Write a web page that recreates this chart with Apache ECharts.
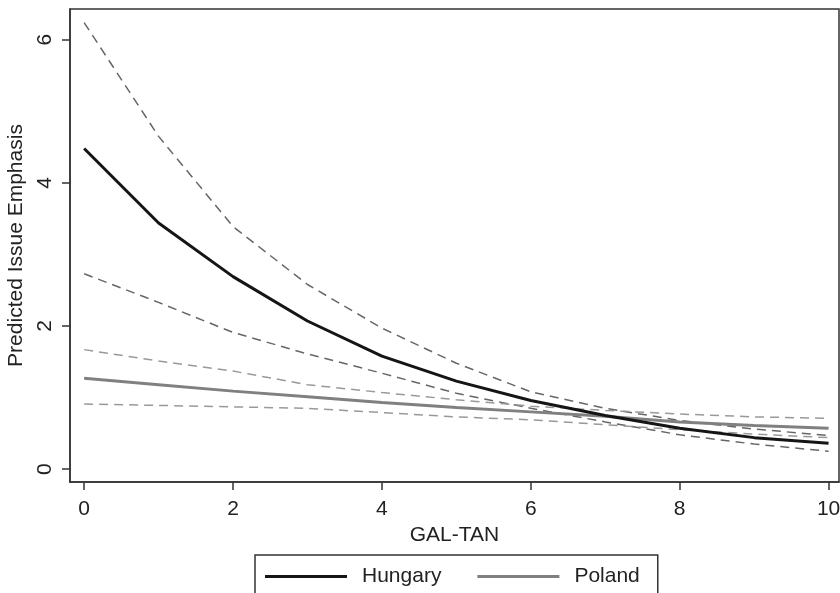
<!DOCTYPE html>
<html>
<head>
<meta charset="utf-8">
<script src="https://cdn.jsdelivr.net/npm/echarts@6/dist/echarts.min.js"></script>
<style>html,body{margin:0;padding:0;background:#fff}#c{width:840px;height:593px}</style>
</head>
<body>
<div id="c"></div>
<script>
var galTan = [0, 1, 2, 3, 4, 5, 6, 7, 8, 9, 10];
var hungary      = [4.48, 3.44, 2.69, 2.07, 1.58, 1.23, 0.96, 0.75, 0.57, 0.44, 0.36];
var hungaryUpper = [6.24, 4.65, 3.39, 2.58, 1.97, 1.48, 1.08, 0.85, 0.68, 0.56, 0.47];
var hungaryLower = [2.73, 2.33, 1.91, 1.61, 1.34, 1.06, 0.85, 0.66, 0.48, 0.35, 0.25];
var poland       = [1.27, 1.18, 1.09, 1.01, 0.93, 0.86, 0.80, 0.74, 0.66, 0.61, 0.57];
var polandUpper  = [1.67, 1.51, 1.37, 1.18, 1.07, 0.97, 0.88, 0.82, 0.77, 0.73, 0.71];
var polandLower  = [0.91, 0.89, 0.87, 0.85, 0.79, 0.73, 0.69, 0.62, 0.55, 0.49, 0.44];
var xTicks = [0, 2, 4, 6, 8, 10];
var yTicks = [0, 2, 4, 6];

function pairs(ys) { return galTan.map(function (x, i) { return [x, ys[i]]; }); }

var font = 'Liberation Sans, Arial, sans-serif';
var fs = 21;
var chart = echarts.init(document.getElementById('c'));
chart.setOption({
  animation: false,
  backgroundColor: '#fff',
  textStyle: { fontFamily: font },
  grid: { left: 70, top: 9, right: 1, bottom: 111, containLabel: false, outerBoundsMode: 'none', show: true, borderColor: '#333', borderWidth: 1.5, backgroundColor: '#fff' },
  xAxis: {
    type: 'value', min: -0.19, max: 10.14,
    name: 'GAL-TAN', nameLocation: 'middle', nameGap: 41,
    nameTextStyle: { fontSize: fs, color: '#222', fontFamily: font },
    axisLine: { show: true, onZero: false, lineStyle: { color: '#333', width: 1.5 } },
    axisTick: { show: true, length: 8, customValues: xTicks, lineStyle: { color: '#333', width: 1.5 } },
    axisLabel: { customValues: xTicks, fontSize: fs, color: '#222', margin: 17, fontFamily: font, showMinLabel: true, showMaxLabel: true },
    splitLine: { show: false }
  },
  yAxis: {
    type: 'value', min: -0.18, max: 6.43,
    name: 'Predicted Issue Emphasis', nameLocation: 'middle', nameGap: 43, nameRotate: 90,
    nameTextStyle: { fontSize: fs, color: '#222', fontFamily: font },
    axisLine: { show: true, onZero: false, lineStyle: { color: '#333', width: 1.5 } },
    axisTick: { show: true, length: 8, customValues: yTicks, lineStyle: { color: '#333', width: 1.5 } },
    axisLabel: { customValues: yTicks, rotate: 90, fontSize: fs, color: '#222', margin: 14, fontFamily: font, showMinLabel: true, showMaxLabel: true },
    splitLine: { show: false }
  },
  legend: {
    data: ['Hungary', 'Poland'],
    left: 255, top: 555,
    icon: 'rect', itemWidth: 82, itemHeight: 3, itemGap: 36,
    padding: [11, 18, 20, 10],
    borderColor: '#333', borderWidth: 1.5,
    textStyle: { fontSize: fs, color: '#222', fontFamily: font, padding: [0, 0, 0, 10] }
  },
  series: [
    { name: 'Hungary upper', type: 'line', data: pairs(hungaryUpper), symbol: 'none', lineStyle: { color: '#666', width: 1.5, type: [9, 6] }, z: 2 },
    { name: 'Hungary lower', type: 'line', data: pairs(hungaryLower), symbol: 'none', lineStyle: { color: '#666', width: 1.5, type: [9, 6] }, z: 2 },
    { name: 'Poland upper', type: 'line', data: pairs(polandUpper), symbol: 'none', lineStyle: { color: '#999', width: 1.5, type: [9, 6] }, z: 2 },
    { name: 'Poland lower', type: 'line', data: pairs(polandLower), symbol: 'none', lineStyle: { color: '#999', width: 1.5, type: [9, 6] }, z: 2 },
    { name: 'Poland', type: 'line', data: pairs(poland), symbol: 'none', color: '#808080', lineStyle: { color: '#808080', width: 3 }, z: 3 },
    { name: 'Hungary', type: 'line', data: pairs(hungary), symbol: 'none', color: '#151515', lineStyle: { color: '#151515', width: 3 }, z: 4 }
  ]
});
</script>
</body>
</html>
